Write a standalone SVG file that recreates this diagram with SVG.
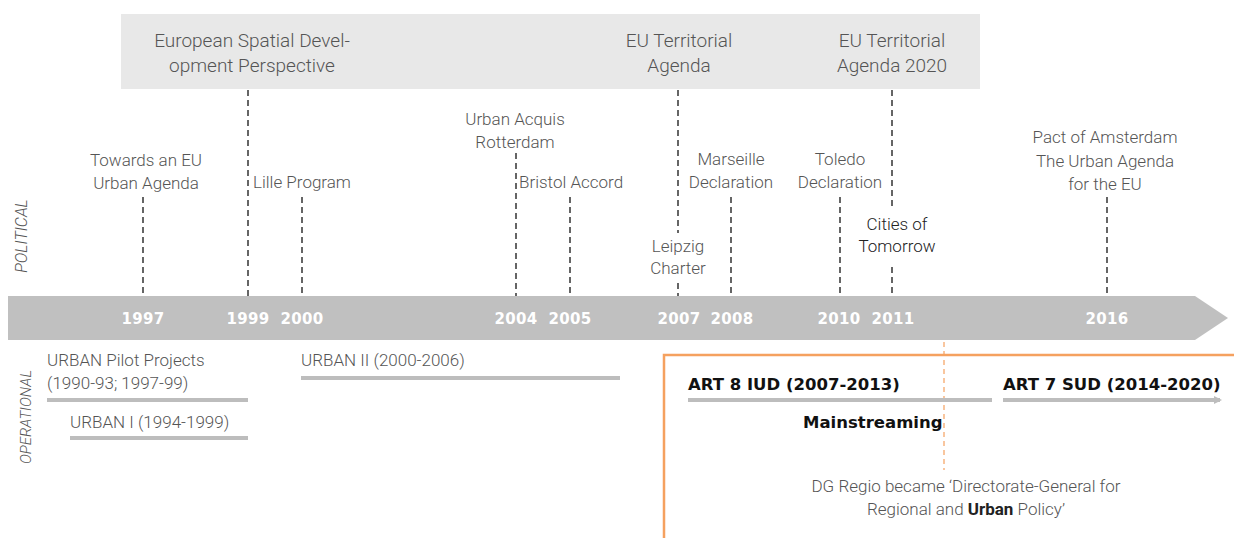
<svg xmlns="http://www.w3.org/2000/svg" width="1234" height="538" viewBox="0 0 1234 538">
<style>
.t{font-family:Roboto,"Open Sans",sans-serif;font-size:17px;fill:#555;font-weight:300}
.h{font-size:19px}
.c{text-anchor:middle}
.y{font-family:"DejaVu Sans",sans-serif;font-weight:bold;font-size:15px;fill:#fff;text-anchor:middle;letter-spacing:0.3px}
.b{font-family:"DejaVu Sans",sans-serif;font-weight:bold;font-size:16.5px;fill:#111}
.d{stroke:#333;stroke-width:1.5;stroke-dasharray:6 4;fill:none}
.g{stroke:#bdbdbd;stroke-width:4;fill:none}
.side{font-family:Roboto,"Open Sans",sans-serif;font-style:italic;fill:#555;font-weight:300;text-anchor:middle}
</style>
<defs>
<marker id="ah" markerWidth="8" markerHeight="8" refX="6" refY="4" orient="auto" markerUnits="userSpaceOnUse">
<path d="M0,0 L8,4 L0,8 Z" fill="#bdbdbd"/>
</marker>
</defs>
<rect width="1234" height="538" fill="#fff"/>

<g id="top-box">
<rect x="121" y="14" width="859" height="75" fill="#e8e8e8"/>
<text class="t h c" x="252" y="47">European Spatial Devel-</text>
<text class="t h c" x="252" y="72">opment Perspective</text>
<text class="t h c" x="679" y="47">EU Territorial</text>
<text class="t h c" x="679" y="72">Agenda</text>
<text class="t h c" x="892" y="47">EU Territorial</text>
<text class="t h c" x="892" y="72">Agenda 2020</text>
</g>

<g id="timeline">
<path d="M8,296 H1195 L1228,318 L1195,340 H8 Z" fill="#c0c0c0"/>
<text class="y" x="143" y="324">1997</text>
<text class="y" x="248" y="324">1999</text>
<text class="y" x="302" y="324">2000</text>
<text class="y" x="516" y="324">2004</text>
<text class="y" x="570" y="324">2005</text>
<text class="y" x="679" y="324">2007</text>
<text class="y" x="732" y="324">2008</text>
<text class="y" x="839" y="324">2010</text>
<text class="y" x="893" y="324">2011</text>
<text class="y" x="1107" y="324">2016</text>
</g>

<g id="connectors">
<line class="d" x1="143" y1="197" x2="143" y2="296"/>
<line class="d" x1="248" y1="90" x2="248" y2="296"/>
<line class="d" x1="302" y1="197" x2="302" y2="296"/>
<line class="d" x1="516" y1="153" x2="516" y2="296"/>
<line class="d" x1="570" y1="197" x2="570" y2="296"/>
<line class="d" x1="678" y1="90" x2="678" y2="233"/>
<line class="d" x1="678" y1="283" x2="678" y2="296"/>
<line class="d" x1="731" y1="197" x2="731" y2="296"/>
<line class="d" x1="840" y1="197" x2="840" y2="296"/>
<line class="d" x1="892" y1="90" x2="892" y2="208"/>
<line class="d" x1="892" y1="267" x2="892" y2="296"/>
<line class="d" x1="1107" y1="197" x2="1107" y2="296"/>
<line x1="944" y1="342" x2="944" y2="470" stroke="#f5a15f" stroke-width="1.2" stroke-dasharray="5 4"/>
</g>

<g id="political">
<text class="side" font-size="16" transform="translate(27,236) rotate(-90)">POLITICAL</text>
<text class="t c" x="146" y="166">Towards an EU</text>
<text class="t c" x="146" y="189">Urban Agenda</text>
<text class="t" x="253" y="188">Lille Program</text>
<text class="t c" x="515" y="125">Urban Acquis</text>
<text class="t c" x="515" y="148">Rotterdam</text>
<text class="t" x="519" y="188">Bristol Accord</text>
<text class="t c" x="678" y="252">Leipzig</text>
<text class="t c" x="678" y="274">Charter</text>
<text class="t c" x="731" y="165">Marseille</text>
<text class="t c" x="731" y="188">Declaration</text>
<text class="t c" x="840" y="165">Toledo</text>
<text class="t c" x="840" y="188">Declaration</text>
<text class="t c" x="897" y="230" style="fill:#222">Cities of</text>
<text class="t c" x="897" y="252" style="fill:#222">Tomorrow</text>
<text class="t c" x="1105" y="143">Pact of Amsterdam</text>
<text class="t c" x="1105" y="167">The Urban Agenda</text>
<text class="t c" x="1105" y="190">for the EU</text>
</g>

<g id="operational">
<text class="side" font-size="15" transform="translate(31,417) rotate(-90)">OPERATIONAL</text>
<text class="t" x="47" y="366">URBAN Pilot Projects</text>
<text class="t" x="47" y="389">(1990-93; 1997-99)</text>
<line class="g" x1="47" y1="400" x2="248" y2="400"/>
<text class="t" x="70" y="428">URBAN I (1994-1999)</text>
<line class="g" x1="70" y1="438" x2="248" y2="438"/>
<text class="t" x="301" y="366">URBAN II (2000-2006)</text>
<line class="g" x1="301" y1="378" x2="620" y2="378"/>
</g>

<g id="urban-box">
<path d="M664,538 V355 H1234" fill="none" stroke="#f5a15f" stroke-width="2.5"/>
<text class="b" x="688" y="390">ART 8 IUD (2007-2013)</text>
<line class="g" x1="688" y1="400" x2="992" y2="400"/>
<text class="b" x="1003" y="390">ART 7 SUD (2014-2020)</text>
<line class="g" x1="1003" y1="400" x2="1220" y2="400" marker-end="url(#ah)"/>
<text class="b" x="803" y="428">Mainstreaming</text>
<text class="t c" x="966" y="492">DG Regio became ‘Directorate-General for</text>
<text class="t c" x="966" y="515">Regional and <tspan style="font-weight:bold;fill:#222">Urban</tspan> Policy’</text>
</g>
</svg>
